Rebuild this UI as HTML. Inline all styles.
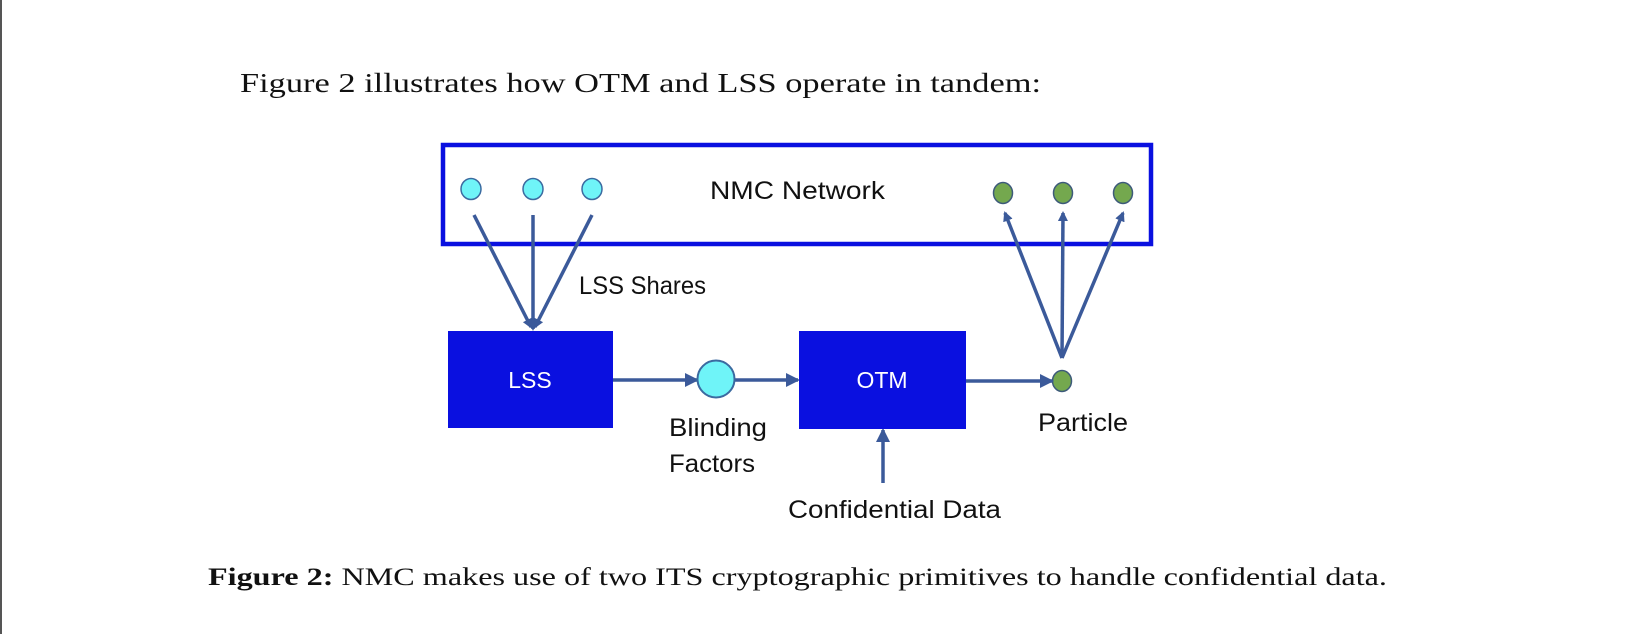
<!DOCTYPE html>
<html><head><meta charset="utf-8"><style>
html,body{margin:0;padding:0;background:#fff;width:1632px;height:634px;overflow:hidden}
svg{display:block}
.s{font-family:"Liberation Serif",serif;fill:#111}
.d{font-family:"Liberation Sans",sans-serif;fill:#111}
</style></head><body>
<svg width="1632" height="634" viewBox="0 0 1632 634" xmlns="http://www.w3.org/2000/svg">
<defs>
<marker id="a" markerWidth="10" markerHeight="10" refX="8" refY="5" orient="auto" markerUnits="userSpaceOnUse" viewBox="0 0 10 10"><path d="M0,0 L10,5 L0,10 z" fill="#3b5a9a"/></marker>
<marker id="b" markerWidth="14" markerHeight="14" refX="12" refY="7" orient="auto" markerUnits="userSpaceOnUse" viewBox="0 0 14 14"><path d="M0,0 L14,7 L0,14 z" fill="#3b5a9a"/></marker>
</defs>
<rect x="0" y="0" width="2" height="634" fill="#555"/>
<text class="s" x="240" y="92" font-size="27" textLength="801" lengthAdjust="spacingAndGlyphs">Figure 2 illustrates how OTM and LSS operate in tandem:</text>
<rect x="443" y="145" width="708" height="99" fill="none" stroke="#0a10e0" stroke-width="4.5"/>
<text class="d" x="710" y="199" font-size="25" textLength="175" lengthAdjust="spacingAndGlyphs">NMC Network</text>
<g fill="#6ff4f8" stroke="#3b6aa0" stroke-width="1.5">
<ellipse cx="471" cy="189" rx="10" ry="10.5"/><ellipse cx="533" cy="189" rx="10" ry="10.5"/><ellipse cx="592" cy="189" rx="10" ry="10.5"/>
</g>
<g fill="#74a84e" stroke="#3d5a7a" stroke-width="1.5">
<ellipse cx="1003" cy="193" rx="9.5" ry="10.5"/><ellipse cx="1063" cy="193" rx="9.5" ry="10.5"/><ellipse cx="1123" cy="193" rx="9.5" ry="10.5"/>
<ellipse cx="1062" cy="381" rx="9.5" ry="10.5"/>
</g>
<g stroke="#3b5a9a" stroke-width="3.5" fill="none">
<line x1="474" y1="215" x2="531" y2="327" marker-end="url(#a)"/>
<line x1="533" y1="215" x2="533" y2="329" marker-end="url(#a)"/>
<line x1="592" y1="215" x2="535" y2="327" marker-end="url(#a)"/>
<line x1="1062" y1="358" x2="1005" y2="213" marker-end="url(#a)"/>
<line x1="1062" y1="358" x2="1063" y2="213" marker-end="url(#a)"/>
<line x1="1062" y1="358" x2="1123" y2="213" marker-end="url(#a)"/>
<line x1="613" y1="380" x2="697" y2="380" marker-end="url(#b)"/>
<line x1="735" y1="380" x2="798" y2="380" marker-end="url(#b)"/>
<line x1="966" y1="381" x2="1052" y2="381" marker-end="url(#b)"/>
<line x1="883" y1="483" x2="883" y2="430" marker-end="url(#b)"/>
</g>
<circle cx="716" cy="379" r="18.5" fill="#6ff4f8" stroke="#3b6aa0" stroke-width="2"/>
<rect x="448" y="331" width="165" height="97" fill="#0a10e0"/>
<rect x="799" y="331" width="167" height="98" fill="#0a10e0"/>
<text class="d" x="530" y="388" font-size="23" text-anchor="middle" style="fill:#fff">LSS</text>
<text class="d" x="882" y="388" font-size="23" text-anchor="middle" style="fill:#fff">OTM</text>
<text class="d" x="579" y="294" font-size="25" textLength="127" lengthAdjust="spacingAndGlyphs">LSS Shares</text>
<text class="d" x="669" y="436" font-size="25" textLength="98" lengthAdjust="spacingAndGlyphs">Blinding</text>
<text class="d" x="669" y="472" font-size="25" textLength="86" lengthAdjust="spacingAndGlyphs">Factors</text>
<text class="d" x="1038" y="431" font-size="25" textLength="90" lengthAdjust="spacingAndGlyphs">Particle</text>
<text class="d" x="788" y="518" font-size="25" textLength="213" lengthAdjust="spacingAndGlyphs">Confidential Data</text>
<text class="s" x="208" y="585" font-size="25" textLength="1179" lengthAdjust="spacingAndGlyphs"><tspan font-weight="bold">Figure 2:</tspan> NMC makes use of two ITS cryptographic primitives to handle confidential data.</text>
</svg>
</body></html>
